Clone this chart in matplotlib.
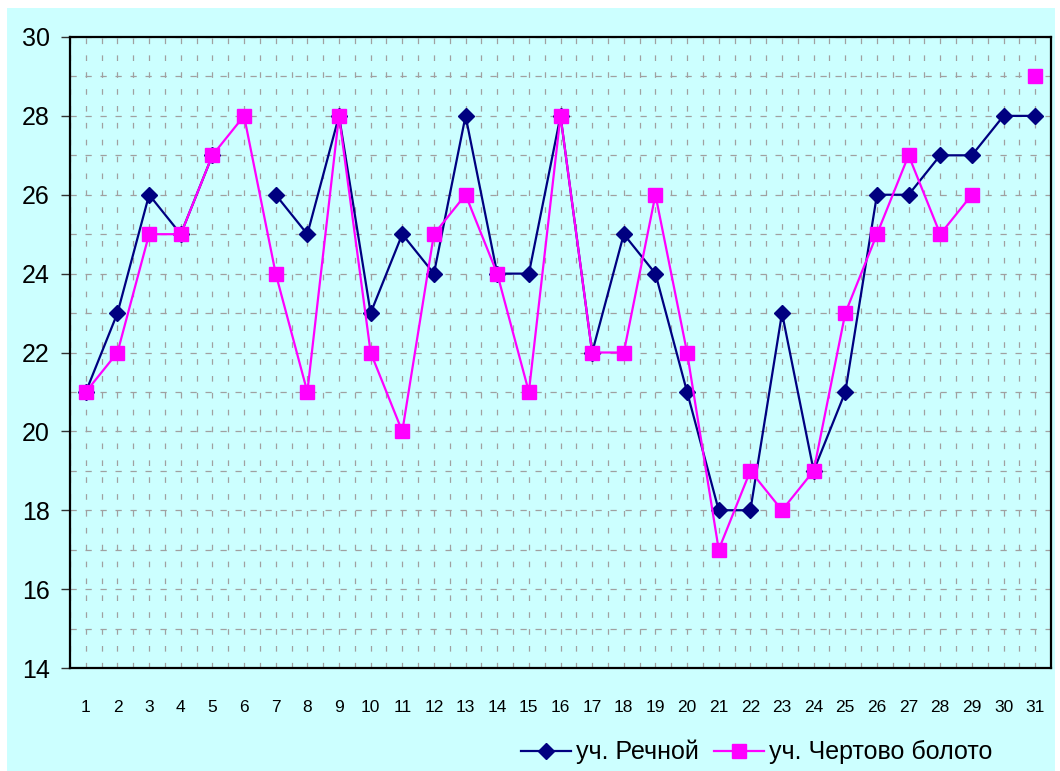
import numpy as np
import matplotlib
matplotlib.use("Agg")
import matplotlib.pyplot as plt
from matplotlib.ticker import MultipleLocator, FixedLocator
from matplotlib.patches import Rectangle

days = list(range(1, 32))
rechnoy = [21, 23, 26, 25, 27, np.nan, 26, 25, 28, 23, 25, 24, 28, 24, 24, 28,
           22, 25, 24, 21, 18, 18, 23, 19, 21, 26, 26, 27, 27, 28, 28]
chertovo = [21, 22, 25, 25, 27, 28, 24, 21, 28, 22, 20, 25, 26, 24, 21, 28,
            22, 22, 26, 22, 17, 19, 18, 19, 23, 25, 27, 25, 26, np.nan, 29]
labels = ["уч. Речной", "уч. Чертово болото"]
y_ticks = list(range(14, 31, 2))

plt.rcParams['font.family'] = ['Liberation Sans', 'DejaVu Sans']

W, H = 1060, 771
fig = plt.figure(figsize=(W / 100, H / 100), dpi=100)
fig.patch.set_facecolor('white')
bg = '#CCFFFF'
fig.patches.append(Rectangle((7 / W, 0), (1055 - 7) / W, 1 - 8 / H,
                             transform=fig.transFigure, facecolor=bg,
                             edgecolor='none', zorder=-10))

ax = fig.add_axes([70 / W, 1 - 668 / H, (1051 - 70) / W, (668 - 37) / H])
ax.set_facecolor(bg)

ax.plot(days, rechnoy, color='#000080', lw=1.6, marker='D', ms=8.5,
        markerfacecolor='#000080', markeredgecolor='#000080', label=labels[0], zorder=3)
ax.plot(days, chertovo, color='#FF00FF', lw=1.6, marker='s', ms=9.5,
        markerfacecolor='#FF00FF', markeredgecolor='#FF00FF', label=labels[1], zorder=4)

ax.set_xlim(0.5, 31.5)
ax.set_ylim(14, 30)
ax.xaxis.set_major_locator(FixedLocator(days))
ax.set_xticklabels([str(d) for d in days])
ax.xaxis.set_minor_locator(MultipleLocator(0.5))
ax.yaxis.set_major_locator(FixedLocator(y_ticks))
ax.yaxis.set_minor_locator(MultipleLocator(1))

ax.tick_params(axis='x', which='both', length=0, labelsize=12.5, pad=23)
ax.tick_params(axis='y', which='major', length=6.5, width=1, direction='out',
               labelsize=18, pad=8, color='#333333')
ax.tick_params(axis='y', which='minor', length=0)

gc = '#A0A0A0'
ax.grid(True, axis='x', which='both', color=gc, lw=0.9, linestyle=(0, (4.5, 9)))
ax.grid(True, axis='y', which='both', color=gc, lw=0.9, linestyle=(0, (5, 7)))
ax.set_axisbelow(True)

for s in ax.spines.values():
    s.set_color('black')
    s.set_linewidth(1.6)

leg = fig.legend(loc='center right', bbox_to_anchor=(1002 / W, 1 - 752 / H),
                 ncol=2, frameon=False, fontsize=18, handlelength=2.0,
                 handletextpad=0.2, columnspacing=0.6, borderaxespad=0)

fig.savefig('out.png', dpi=100, facecolor=fig.get_facecolor())
